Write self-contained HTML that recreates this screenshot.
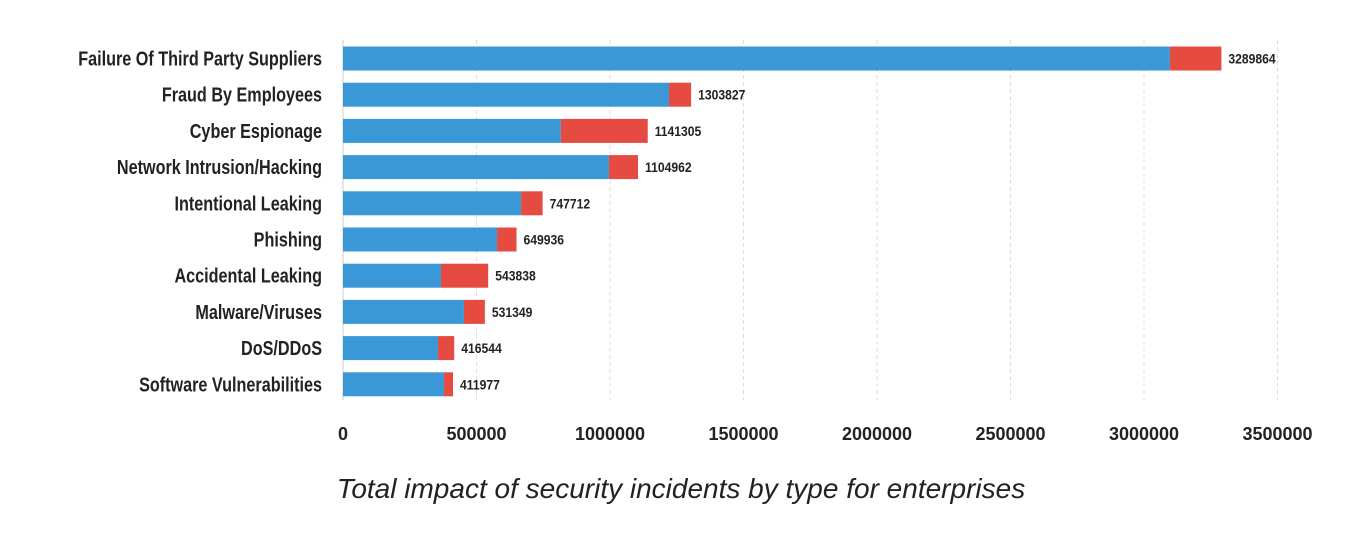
<!DOCTYPE html>
<html><head><meta charset="utf-8"><style>
html,body{margin:0;padding:0;background:#fff;}
svg{display:block;}
text{font-family:"Liberation Sans Narrow","Liberation Sans",sans-serif;font-weight:bold;fill:#222;}
</style></head><body>
<svg id="chart" width="1345" height="550"></svg>
<script>
const categories=["Failure Of Third Party Suppliers","Fraud By Employees","Cyber Espionage","Network Intrusion/Hacking","Intentional Leaking","Phishing","Accidental Leaking","Malware/Viruses","DoS/DDoS","Software Vulnerabilities"];
const blueValues=[3097000,1221000,816000,996000,667000,577000,367000,453000,356000,378000];
const totalValues=[3289864,1303827,1141305,1104962,747712,649936,543838,531349,416544,411977];
const tickValues=[0,500000,1000000,1500000,2000000,2500000,3000000,3500000];
const NS="http://www.w3.org/2000/svg";
const svg=document.getElementById('chart');
const x0=343,xPer=133.5/500000;
const xs=v=>x0+v*xPer;
const ys=i=>46.5+i*36.2;
const bh=24;
function el(tag,attrs,parent){const e=document.createElementNS(NS,tag);for(const k in attrs)e.setAttribute(k,attrs[k]);(parent||svg).appendChild(e);return e;}
const grid=el('g',{});


tickValues.forEach((t,i)=>{
  if(i===0)return;
  const l=el('line',{x1:xs(t),x2:xs(t),y1:40,y2:400,stroke:'#ddd','stroke-width':1,'stroke-dasharray':'4,3'},grid);
  
  
});
const axis=el('line',{x1:x0,x2:x0,y1:40,y2:400,stroke:'#ccc','stroke-width':1});


categories.forEach((c,i)=>{
  const y=ys(i);
  const b=el('rect',{x:x0,y:y,width:xs(blueValues[i])-x0,height:bh,fill:'#3a98d6'});
  
  
  const r=el('rect',{x:xs(blueValues[i]),y:y,width:xs(totalValues[i])-xs(blueValues[i]),height:bh,fill:'#e54b40'});
  
  
  const g=el('g',{transform:'translate(322,'+(y+19)+') scale(0.81,1)'});
  const lab=el('text',{x:0,y:0,'text-anchor':'end','font-size':20},g);
  lab.textContent=c;
  
  
  const gv=el('g',{transform:'translate('+(xs(totalValues[i])+7)+','+(y+17)+') scale(0.9,1)'});
  const v=el('text',{x:0,y:0,'font-size':13.5},gv);
  v.textContent=totalValues[i];
  
  
});
tickValues.forEach(t=>{
  const tx=el('text',{x:xs(t),y:440,'text-anchor':'middle','font-size':18});
  tx.textContent=t;
  
  
});
const title=el('text',{x:681,y:498,'text-anchor':'middle','font-size':28,'font-style':'italic'});
title.setAttribute('style','font-family:"Liberation Sans",sans-serif;font-weight:normal;fill:#222');
title.textContent='Total impact of security incidents by type for enterprises';


</script>
</body></html>
